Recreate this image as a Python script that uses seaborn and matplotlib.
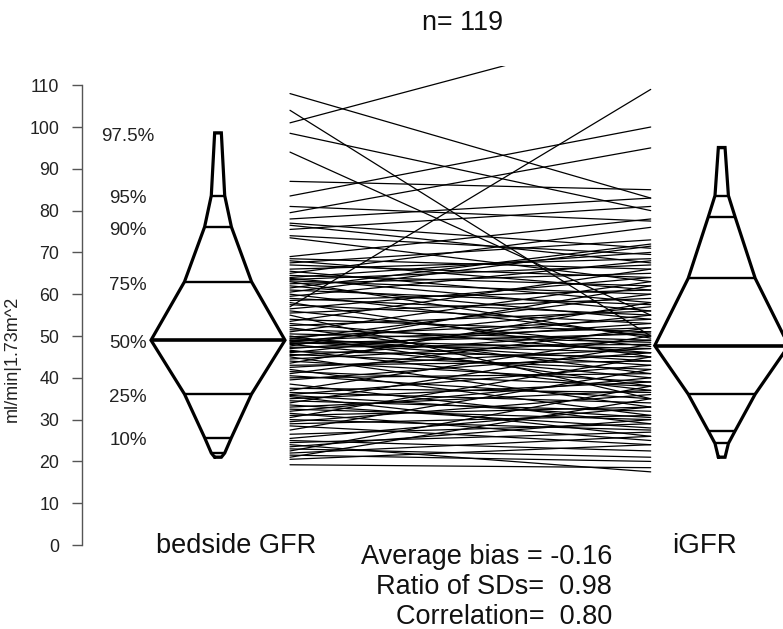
import numpy as np
import pandas as pd
import matplotlib
matplotlib.use("Agg")
import matplotlib.pyplot as plt
import seaborn as sns

# ---------------- data ----------------
bedside_gfr = [19.2, 20.5, 21, 21.5, 22, 22.5, 23, 23.5, 24, 24.5, 25, 25.5,
               26.5, 27.5, 28.5, 29, 29.5, 30, 30.5, 31, 31.5, 32, 32.5, 33,
               33.5, 34, 34.5, 35, 35.5, 36, 35.8,
               36.5, 37, 37.5, 38.5, 39.5, 40, 40.5, 41, 41.5, 42, 42.5, 43,
               43.5, 44, 44.5, 45, 45.3, 45.6, 46, 46.3, 46.6, 47, 47.3, 47.6,
               48, 48.2, 48.4, 48.6, 48.8, 49,
               49, 49.3, 49.5, 49.8, 50, 50.5, 51, 51.5, 52, 52.5, 53, 53.5,
               54, 55, 55.5, 56, 56.5, 57, 57.5, 58, 58.5, 59, 59.5, 60, 60.5,
               61, 61.5, 62, 62.5, 63,
               63.2, 63.5, 63.8, 64, 64.5, 65, 65.5, 66, 67, 67.5, 68, 68.5,
               69, 73.5, 74, 75.5, 76.5,
               77, 78, 79.5, 81, 83.5, 87, 94, 98.5, 101, 104, 108]
igfr = [18.5, 24, 35, 20, 26, 38, 21, 30, 17.5, 27, 22.5, 33,
        29, 42, 24, 31, 36, 27.5, 45, 33, 25, 40, 30, 37,
        28, 48, 32, 39, 26, 43, 30.5,
        34, 50, 36.5, 29, 46, 41, 35, 52, 38, 31, 47, 44,
        58, 39, 49, 33, 51, 42, 55, 45, 37, 53, 48, 62,
        40, 50.5, 46, 57, 43, 52,
        47, 60, 44, 54, 38, 48.5, 63, 49, 41, 56, 46, 66,
        51, 35, 59, 47.5, 64, 109, 53, 45, 61, 55, 68, 50, 71.5,
        57.5, 72, 54, 65, 49.5,
        60, 67, 56, 70, 62, 76, 58, 68.5, 64, 73, 61, 66,
        78, 63, 69.5, 81, 67.5,
        71, 83, 95, 77.5, 100, 85, 55, 80, 124, 50, 83]

percentiles = [2.5, 5, 10, 25, 50, 75, 90, 95, 97.5]
pct_labels = ["97.5%", "95%", "90%", "75%", "50%", "25%", "10%"]
bedside_pct_values = [21.0, 22.0, 25.7, 36.1, 49.0, 63.0, 76.1, 83.6, 98.6]
igfr_pct_values = [21.0, 24.3, 27.3, 36.1, 47.7, 63.8, 78.5, 83.6, 95.1]

group_names = ["bedside GFR", "iGFR"]
stats_lines = ["Average bias = -0.16", "Ratio of SDs=  0.98", "Correlation=  0.80"]
title_text = "n= 119"
y_ticks = list(range(0, 111, 10))
y_label = "ml/min|1.73m^2"

# ---------------- layout ----------------
W, H = 783, 629
sns.set_theme(style="white")
plt.rcParams["font.family"] = ["Liberation Sans", "DejaVu Sans"]

fig = plt.figure(figsize=(W / 100, H / 100), dpi=100)
ax_left_px, ax_right_px = 82, 783
ax_top_px, ax_bot_px = 66, 563.4
ax = fig.add_axes([ax_left_px / W, 1 - ax_bot_px / H,
                   (ax_right_px - ax_left_px) / W, (ax_bot_px - ax_top_px) / H])
ax.set_xlim(0, (ax_right_px - ax_left_px) / 100)
ax.set_ylim(-4.4, 114.6)

def px_x(p):
    return (p - ax_left_px) / 100

left_c, right_c = px_x(218), px_x(721.7)
line_x0, line_x1 = px_x(290), px_x(650.7)
half_w = 0.67

# connecting lines via seaborn
n = len(bedside_gfr)
df = pd.DataFrame({
    "id": list(range(n)) * 2,
    "x": [line_x0] * n + [line_x1] * n,
    "value": list(bedside_gfr) + list(igfr),
})
sns.lineplot(data=df, x="x", y="value", units="id", estimator=None,
             color="black", lw=0.9, ax=ax, legend=False)

def kite(center, vals):
    widths = [half_w * min(p, 100 - p) / 50 for p in percentiles]
    xs = [center - w for w in widths] + [center + w for w in widths[::-1]]
    ys = list(vals) + list(vals[::-1])
    xs.append(xs[0]); ys.append(ys[0])
    ax.plot(xs, ys, color="black", lw=2.3, solid_joinstyle="miter", zorder=3)
    for p, v, w in zip(percentiles, vals, widths):
        ax.plot([center - w, center + w], [v, v], color="black",
                lw=2.6 if p == 50 else 1.7, zorder=3, solid_capstyle="butt")

kite(left_c, bedside_pct_values)
kite(right_c, igfr_pct_values)

# percentile labels (left)
label_pcts = [97.5, 95, 90, 75, 50, 25, 10]
for lab, p in zip(pct_labels, label_pcts):
    v = bedside_pct_values[percentiles.index(p)]
    ax.text(px_x(128), v - 0.8, lab, ha="center", va="center", fontsize=13.5,
            color="#222222", clip_on=False)

# axes styling
for s in ["top", "right", "bottom"]:
    ax.spines[s].set_visible(False)
ax.spines["left"].set_bounds(0, 110)
ax.spines["left"].set_color("#555555")
ax.spines["left"].set_linewidth(1.0)
ax.set_yticks(y_ticks)
ax.set_yticklabels([str(t) for t in y_ticks])
ax.set_xticks([])
ax.tick_params(axis="y", direction="out", length=7.5, width=1.0,
               color="#555555", labelsize=12.8, labelcolor="#222222", pad=9,
               left=True)
ax.set_xlabel("")
ax.set_ylabel(y_label, fontsize=13, color="#222222")
ax.yaxis.set_label_coords(-(82 - 21) / 701, (563.4 - 359) / 497.4)

def ftext(px, py, s, **kw):
    fig.text(px / W, 1 - py / H, s, **kw)

ftext(463, 30, title_text, ha="center", va="baseline", fontsize=19.4, color="#111111")
ftext(236, 553, group_names[0], ha="center", va="baseline", fontsize=19.5, color="#111111")
ftext(704, 553, group_names[1], ha="center", va="baseline", fontsize=20, color="#111111")
baselines = [564, 594.5, 623.5]
for s, b in zip(stats_lines, baselines):
    ftext(612, b, s, ha="right", va="baseline", fontsize=19.5, color="#111111")

fig.savefig("out.png", dpi=100, facecolor="white")
